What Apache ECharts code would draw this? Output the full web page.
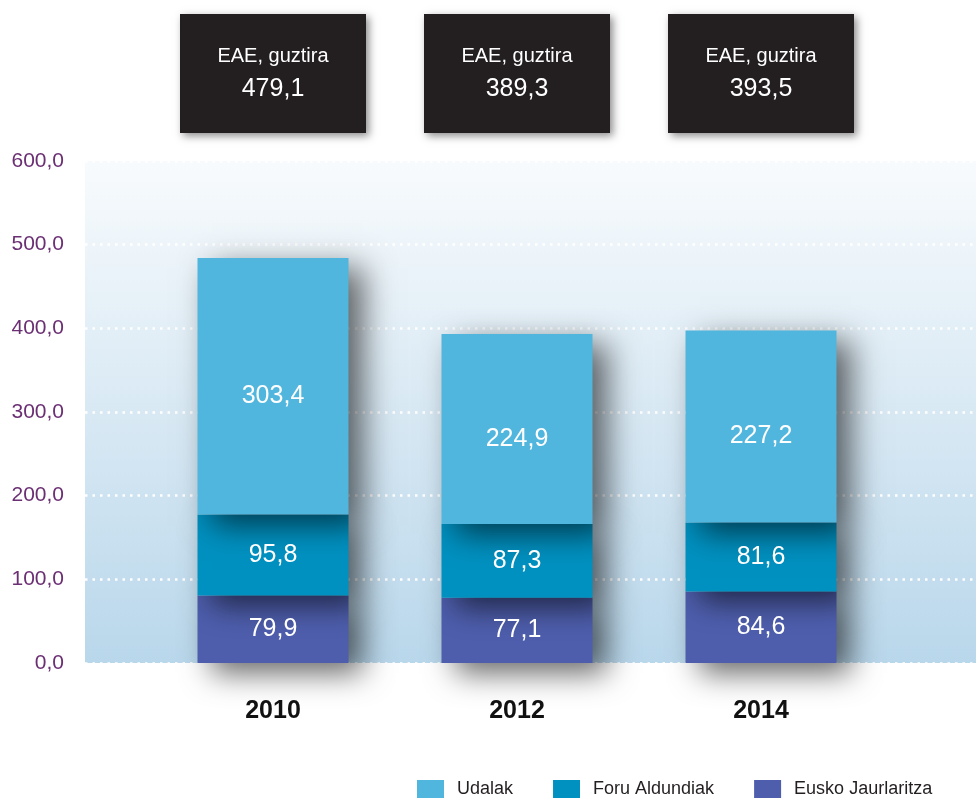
<!DOCTYPE html>
<html>
<head>
<meta charset="utf-8">
<script src="https://cdn.jsdelivr.net/npm/echarts@6/dist/echarts.min.js"></script>
<style>
  html, body { margin: 0; padding: 0; background: #fff; }
  #chart { width: 979px; height: 800px; }
</style>
</head>
<body>
<div id="chart"></div>
<script>
const years = ['2010', '2012', '2014'];
const euskoJaurlaritza = [79.9, 77.1, 84.6];
const foruAldundiak = [95.8, 87.3, 81.6];
const udalak = [303.4, 224.9, 227.2];
const totals = [479.1, 389.3, 393.5];
const totalTitle = 'EAE, guztira';

const FONT = '"Liberation Sans", Arial, sans-serif';
const fmt = v => Number(v).toFixed(1).replace('.', ',');

const chart = echarts.init(document.getElementById('chart'));

const shadow = {
  shadowBlur: 30,
  shadowOffsetX: 14,
  shadowOffsetY: 10,
  shadowColor: 'rgba(0, 0, 0, 0.6)'
};

const barLabel = {
  show: true,
  position: 'inside',
  color: '#fff',
  fontFamily: FONT,
  fontSize: 25,
  formatter: p => fmt(p.value)
};

const makeSeries = (name, data, color, offsetY) => ({
  name,
  type: 'bar',
  stack: 'total',
  xAxisIndex: 1,
  yAxisIndex: 1,
  barWidth: 151,
  data,
  itemStyle: Object.assign({ color }, shadow),
  label: Object.assign({}, barLabel, { offset: [0, offsetY] }),
  emphasis: { disabled: true }
});

chart.setOption({
  animation: false,
  grid: [
    {
      left: 85, right: 3, top: 161, bottom: 137,
      show: true, borderWidth: 0,
      backgroundColor: new echarts.graphic.LinearGradient(0, 0, 0, 1, [
        { offset: 0, color: '#f8fbfd' },
        { offset: 1, color: '#b9d7eb' }
      ])
    },
    { left: 151, width: 732, top: 161, bottom: 137 }
  ],
  xAxis: [
    { type: 'value', gridIndex: 0, show: false, min: 0, max: 1 },
    {
      type: 'category',
      gridIndex: 1,
      data: years,
      axisLine: { show: false },
      axisTick: { show: false },
      axisLabel: {
        margin: 36,
        color: '#111',
        fontFamily: FONT,
        fontWeight: 'bold',
        fontSize: 25
      }
    }
  ],
  yAxis: [
    {
      type: 'value',
      gridIndex: 0,
      min: 0,
      max: 600,
      interval: 100,
      axisLine: { show: false },
      axisTick: { show: false },
      axisLabel: {
        margin: 21,
        color: '#6b2f73',
        fontFamily: FONT,
        fontSize: 21,
        formatter: v => fmt(v)
      },
      splitLine: {
        show: true,
        lineStyle: { color: '#ffffff', width: 2.5, type: [2.5, 5] }
      }
    },
    // bars are drawn a touch taller than the printed axis, as in the source
    { type: 'value', gridIndex: 1, min: 0, max: 594, show: false }
  ],
  legend: {
    data: ['Udalak', 'Foru Aldundiak', 'Eusko Jaurlaritza'],
    left: 417,
    top: 780,
    width: 560,
    padding: 0,
    icon: 'rect',
    itemWidth: 27,
    itemHeight: 18,
    itemGap: 40,
    selectedMode: false,
    textStyle: {
      color: '#231f20',
      fontFamily: FONT,
      fontSize: 18,
      padding: [0, 0, 0, 8]
    }
  },
  series: [
    makeSeries('Eusko Jaurlaritza', euskoJaurlaritza, '#4e5ead', 0),
    makeSeries('Foru Aldundiak', foruAldundiak, '#0091c1', 0),
    makeSeries('Udalak', udalak, '#51b6de', 10)
  ]
});

// black total boxes above each bar
const graphics = [];
years.forEach((y, i) => {
  const cx = chart.convertToPixel({ xAxisIndex: 1 }, y);
  graphics.push({
    type: 'group',
    left: cx - 93,
    top: 14,
    children: [
      {
        type: 'rect',
        shape: { x: 0, y: 0, width: 186, height: 119 },
        style: {
          fill: '#231f20',
          shadowBlur: 8,
          shadowOffsetX: 3,
          shadowOffsetY: 3,
          shadowColor: 'rgba(0,0,0,0.45)'
        }
      },
      {
        type: 'text',
        x: 93, y: 42,
        style: {
          text: totalTitle,
          fill: '#fff',
          font: '20px ' + FONT,
          align: 'center',
          verticalAlign: 'middle'
        }
      },
      {
        type: 'text',
        x: 93, y: 75,
        style: {
          text: fmt(totals[i]),
          fill: '#fff',
          font: '25px ' + FONT,
          align: 'center',
          verticalAlign: 'middle'
        }
      }
    ]
  });
});
chart.setOption({ graphic: graphics });
</script>
</body>
</html>
